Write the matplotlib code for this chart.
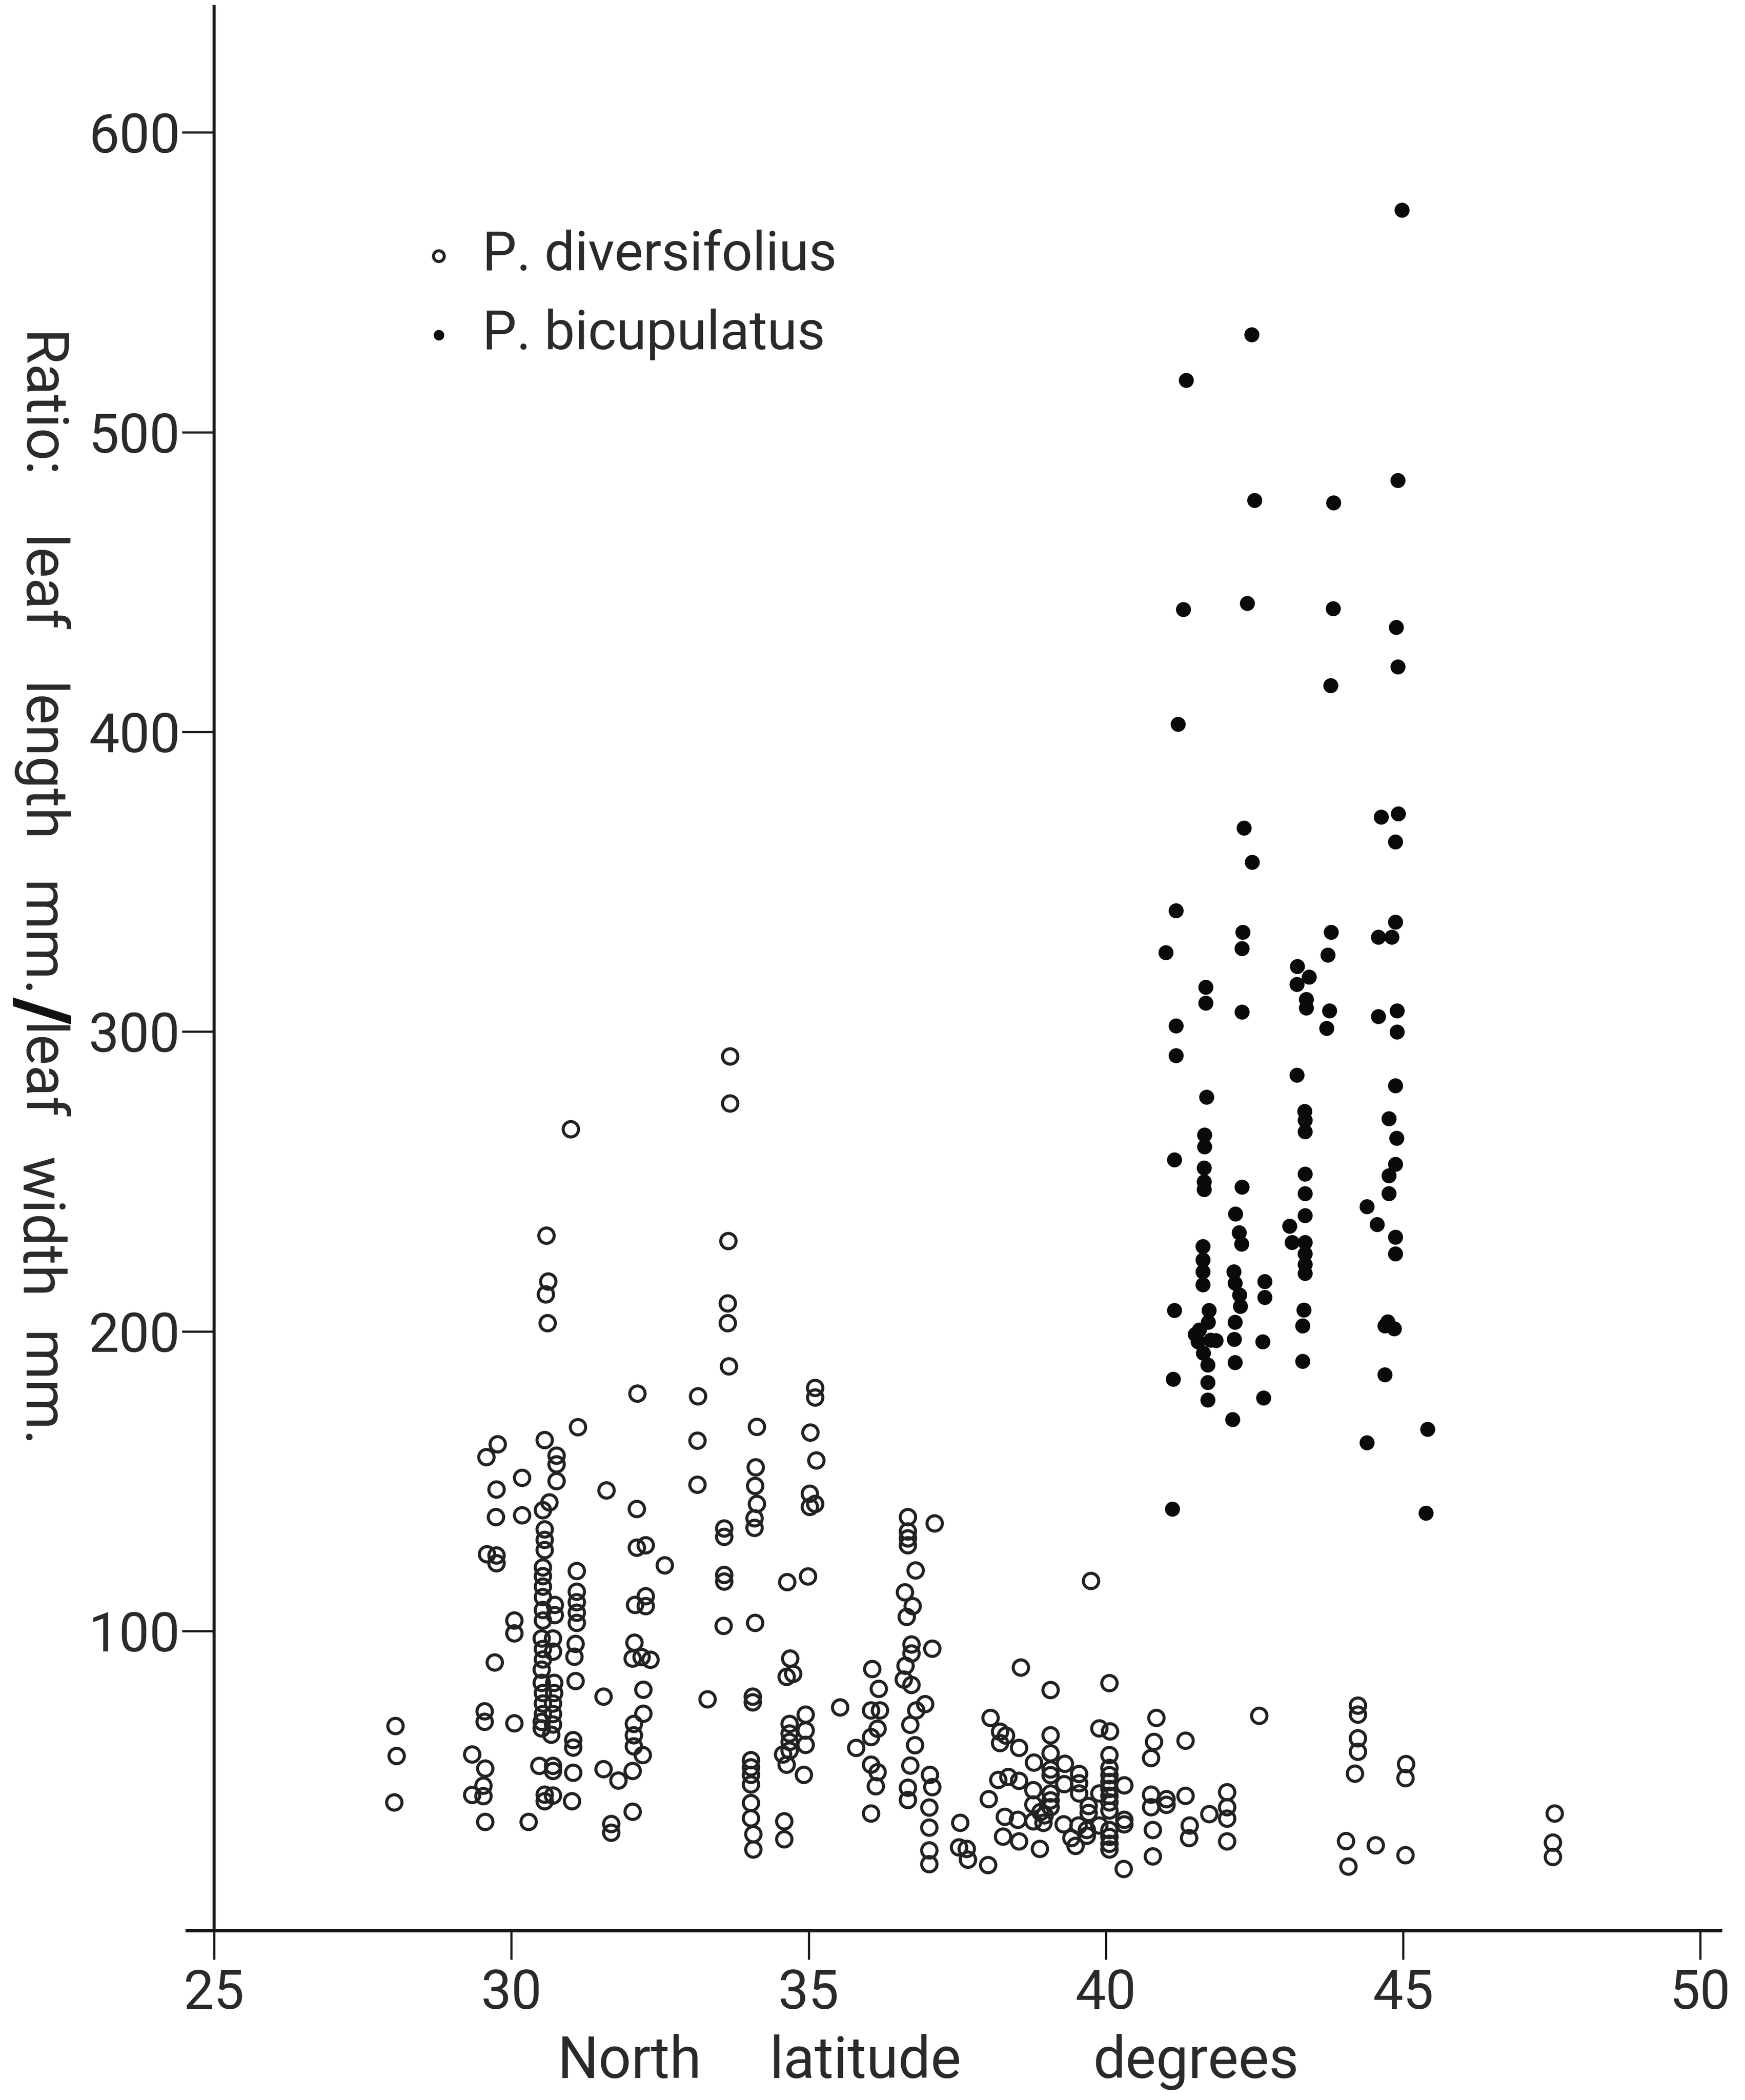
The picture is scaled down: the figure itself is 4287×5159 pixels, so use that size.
import matplotlib
matplotlib.use("Agg")
import matplotlib.pyplot as plt

plt.rcParams['font.family'] = ['Roboto', 'DejaVu Sans']
plt.rcParams['font.weight'] = 'normal'

# ---------------- data ----------------
x_ticks = [25, 30, 35, 40, 45, 50]
y_ticks = [100, 200, 300, 400, 500, 600]

# P. diversifolius (open circles): latitude (deg N) and leaf length/width ratio
div_lat = [
    31.00, 30.59, 30.62, 30.58, 30.61, 31.12, 29.77, 29.58, 30.56, 30.76,
    30.76, 30.18, 30.76, 29.75, 30.64, 30.53, 29.74, 30.18, 30.56, 30.56,
    30.56, 29.59, 29.75, 29.75, 30.53, 31.10, 30.53, 30.53, 31.10, 30.53,
    30.73, 31.10, 30.53, 30.73, 31.10, 30.53, 30.05, 30.05, 31.10, 30.51,
    30.70, 31.08, 30.53, 30.70, 30.53, 29.72, 31.06, 30.51, 30.51, 30.72,
    31.08, 30.53, 30.72, 30.53, 30.70, 30.53, 30.70, 29.55, 29.55, 30.05,
    28.05, 30.51, 30.70, 30.51, 30.67, 31.04, 31.04, 28.07, 29.34, 29.56,
    30.47, 30.70, 30.70, 31.04, 29.53, 29.34, 29.53, 30.56, 30.70, 30.56,
    31.02, 28.03, 29.56, 30.29,
    33.68, 33.68, 33.65, 33.64, 33.64, 33.66, 32.12, 33.14, 34.13, 35.11,
    35.11, 35.03, 33.13, 34.11, 35.13, 31.60, 33.13, 34.10, 34.13, 35.02,
    35.02, 35.11, 32.11, 34.09, 34.09, 33.58, 33.58, 32.11, 32.26, 32.58,
    33.58, 33.58, 34.64, 34.99, 32.08, 32.26, 32.26, 33.57, 34.10, 32.07,
    32.04, 32.19, 32.34, 34.69, 34.74, 34.63, 31.55, 32.22, 33.30, 34.06,
    34.06, 32.22, 32.06, 32.06, 32.06, 32.21, 34.68, 34.68, 34.68, 34.68,
    34.95, 34.95, 34.95, 34.57, 34.63, 34.92, 31.55, 31.80, 32.04, 34.03,
    34.03, 34.03, 34.03, 34.03, 34.03, 34.07, 34.07, 32.04, 31.68, 31.68,
    34.59, 34.59,
    36.67, 36.67, 36.67, 36.67, 37.12, 36.80, 36.62, 36.75, 36.65, 36.73,
    36.73, 37.08, 36.63, 36.60, 36.73, 36.07, 36.18, 35.53, 36.05, 36.20,
    36.16, 36.05, 35.80, 36.81, 36.96, 36.71, 36.79, 36.71, 36.05, 36.16,
    36.13, 36.67, 36.67, 37.04, 37.08, 36.05, 37.03, 37.03, 37.03, 37.03,
    38.57, 38.06, 38.22, 38.32, 38.22, 38.54, 38.79, 38.19, 38.36, 38.54,
    38.03, 38.78, 38.78, 38.90, 38.30, 38.52, 38.78, 38.95, 38.27, 38.54,
    38.89, 37.55, 37.53, 37.66, 37.68, 38.02,
    39.75, 39.07, 40.06, 42.58, 40.85, 40.81, 41.34, 40.76, 39.07, 39.07,
    39.31, 39.07, 39.07, 39.55, 39.55, 39.30, 39.89, 40.07, 40.06, 40.06,
    40.06, 40.06, 40.06, 40.06, 40.06, 40.06, 40.31, 39.07, 39.07, 39.07,
    38.97, 39.55, 39.71, 39.71, 39.89, 39.29, 39.54, 39.68, 39.89, 39.42,
    39.49, 39.68, 40.06, 40.06, 40.06, 40.06, 40.31, 40.31, 40.30, 40.76,
    40.76, 41.02, 41.02, 41.34, 40.79, 40.79, 41.41, 41.40, 41.74, 42.04,
    42.04, 42.04, 42.04,
    44.24, 44.24, 44.24, 44.24, 44.19, 45.05, 45.04, 44.04, 44.54, 44.08,
    45.04, 47.55, 47.52, 47.52,
]
div_ratio = [
    267.4, 231.9, 216.6, 212.3, 202.7, 168.0, 162.3, 158.0, 163.7, 158.5,
    155.6, 151.1, 150.0, 147.2, 142.9, 140.3, 138.0, 138.6, 133.9, 130.4,
    127.0, 125.6, 125.2, 122.6, 121.2, 120.0, 118.3, 114.8, 113.1, 111.3,
    108.7, 109.6, 107.0, 105.3, 106.1, 103.5, 103.5, 99.2, 102.7, 97.5,
    97.5, 95.7, 94.0, 93.1, 90.5, 89.5, 91.4, 87.1, 82.7, 82.7,
    83.3, 79.3, 79.3, 75.8, 75.8, 72.3, 72.3, 73.2, 69.7, 69.2,
    68.3, 69.7, 68.8, 67.5, 65.4, 63.6, 61.1, 58.3, 58.8, 54.1,
    55.0, 55.0, 53.3, 52.7, 48.4, 45.3, 44.9, 45.4, 45.1, 43.2,
    43.2, 42.8, 36.3, 36.3,
    291.7, 276.0, 230.1, 209.3, 202.7, 188.3, 179.2, 178.3, 168.1, 181.1,
    177.9, 166.2, 163.5, 154.6, 156.9, 146.9, 148.8, 148.4, 142.4, 145.8,
    141.4, 142.4, 140.7, 137.6, 134.4, 134.2, 131.4, 127.8, 128.6, 121.9,
    118.7, 116.5, 116.3, 118.2, 108.7, 111.6, 108.3, 101.7, 102.7, 96.1,
    90.8, 91.3, 90.4, 90.8, 85.7, 84.7, 78.1, 80.4, 77.2, 78.1,
    76.2, 72.4, 69.0, 65.2, 61.5, 58.6, 69.0, 65.8, 63.0, 60.1,
    72.1, 66.8, 62.0, 58.8, 55.4, 52.0, 53.9, 50.1, 53.3, 56.9,
    54.5, 52.0, 48.8, 42.6, 37.5, 32.2, 27.1, 39.7, 35.6, 32.7,
    36.5, 30.5,
    138.0, 133.2, 130.9, 128.6, 135.9, 120.2, 112.9, 108.3, 104.7, 95.5,
    92.5, 94.1, 88.4, 83.8, 82.0, 87.3, 80.7, 74.5, 73.5, 73.5,
    67.4, 64.6, 61.0, 73.5, 75.6, 68.7, 61.9, 55.1, 55.4, 52.9,
    48.2, 47.7, 43.6, 52.0, 47.9, 39.1, 41.1, 34.4, 26.8, 22.2,
    87.8, 71.0, 66.4, 65.1, 62.6, 61.0, 56.1, 50.3, 51.3, 50.0,
    43.9, 46.9, 42.1, 39.6, 38.0, 37.0, 36.5, 36.0, 31.4, 29.8,
    27.3, 36.0, 27.8, 27.3, 23.7, 21.9,
    116.7, 80.3, 82.6, 71.7, 71.0, 63.0, 63.4, 57.6, 65.2, 59.2,
    55.7, 53.8, 51.9, 52.3, 49.2, 48.9, 67.5, 66.5, 58.6, 54.3,
    51.9, 49.6, 47.3, 45.0, 42.8, 40.1, 48.5, 45.8, 43.5, 41.2,
    38.5, 45.8, 41.6, 39.3, 45.8, 35.5, 35.1, 33.6, 35.1, 30.9,
    28.3, 31.7, 33.6, 31.3, 29.0, 27.1, 37.0, 35.5, 20.6, 45.4,
    41.2, 43.9, 42.0, 45.0, 33.6, 24.8, 35.1, 30.9, 38.9, 46.2,
    41.2, 37.4, 29.8,
    75.1, 72.1, 64.2, 59.7, 52.4, 55.6, 50.9, 29.9, 28.5, 21.4,
    25.2, 39.1, 29.4, 24.6,
]

# P. bicupulatus (filled dots)
bic_lat = [
    42.45, 41.35, 42.50, 42.38, 41.30, 41.21, 42.32, 42.46, 41.18, 41.01,
    42.30, 42.29, 41.68, 41.68, 41.18, 42.29, 41.18, 41.69, 41.66, 41.66,
    41.65, 41.65, 41.65, 41.15, 42.29, 42.18, 42.24, 42.28, 41.63, 41.63,
    41.63, 41.63, 42.15, 42.17, 42.25, 42.26, 42.67, 42.67, 41.15, 41.73,
    41.57, 41.72, 41.76, 41.55, 41.64, 41.71, 42.17, 42.16, 42.17, 42.64,
    41.71, 41.71, 41.13, 42.13, 42.65, 41.12, 41.50, 41.85,
    44.98, 44.91, 43.83, 43.82, 44.88, 44.91, 43.78, 44.63, 44.92, 44.87,
    43.79, 43.73, 44.87, 44.58, 44.81, 43.22, 43.42, 43.21, 43.37, 43.37,
    43.76, 43.71, 44.58, 44.90, 44.90, 43.21, 44.87, 43.34, 43.35, 43.35,
    44.76, 44.89, 43.35, 43.35, 43.35, 44.87, 44.76, 44.76, 44.39, 44.56,
    43.09, 43.13, 43.35, 43.35, 43.35, 43.35, 44.87, 44.87, 43.33, 43.31,
    43.31, 44.69, 44.74, 44.85, 44.69, 44.39, 45.41, 45.38,
]
bic_ratio = [
    532.6, 517.3, 477.2, 442.9, 440.8, 402.6, 368.0, 356.5, 340.4, 326.4,
    333.1, 327.7, 314.9, 309.5, 301.9, 306.6, 292.0, 278.2, 265.5, 261.6,
    254.6, 249.9, 247.3, 257.2, 248.1, 239.2, 233.0, 229.1, 228.3, 223.9,
    219.9, 215.6, 219.9, 216.1, 212.2, 208.3, 216.6, 211.4, 207.0, 207.0,
    200.5, 203.1, 197.1, 196.6, 192.7, 188.8, 203.1, 197.3, 189.6, 196.6,
    183.0, 177.1, 184.1, 170.6, 177.8, 140.7, 199.0, 197.0,
    574.1, 483.9, 476.5, 441.1, 434.9, 421.7, 415.5, 371.6, 372.7, 363.3,
    333.2, 325.6, 336.5, 331.5, 331.5, 321.7, 318.2, 315.8, 310.8, 307.9,
    307.0, 301.1, 305.0, 307.0, 299.9, 285.5, 281.9, 273.4, 270.4, 266.6,
    271.0, 264.5, 252.5, 246.0, 238.6, 255.7, 251.9, 246.0, 241.6, 235.6,
    235.1, 229.7, 229.7, 225.9, 222.4, 219.4, 231.5, 225.9, 207.1, 201.8,
    190.0, 201.8, 203.2, 200.9, 185.5, 162.8, 167.3, 139.3,
]

series_labels = ["P. diversifolius", "P. bicupulatus"]
x_label_words = ["North", "latitude", "degrees"]
y_label_words = ["Ratio:", "leaf", "length", "mm.", "/", "leaf", "width", "mm."]

TXT = "#2a2a2a"

# ---------------- figure ----------------
W, H = 4287, 5159
fig = plt.figure(figsize=(W / 300, H / 300), dpi=300)
fig.patch.set_facecolor("white")
ax = fig.add_axes([0.1074, 0.0806, 0.8786, 0.9163])
ax.set_facecolor("white")

h_div = ax.scatter(div_lat, div_ratio, s=82, facecolors="none",
                   edgecolors="#222222", linewidths=1.8, label=series_labels[0], zorder=3)
h_bic = ax.scatter(bic_lat, bic_ratio, s=78, c="#0a0a0a", linewidths=0,
                   label=series_labels[1], zorder=4)

ax.set_xlim(24.55, 50.34)
ax.set_ylim(0, 642)
ax.spines["top"].set_visible(False)
ax.spines["right"].set_visible(False)
ax.spines["left"].set_position(("data", 25))
ax.spines["left"].set_linewidth(1.8)
ax.spines["bottom"].set_linewidth(2.0)
ax.spines["left"].set_color("#1a1a1a")
ax.spines["bottom"].set_color("#1a1a1a")

ax.set_xticks(x_ticks)
ax.set_xticklabels([str(v) for v in x_ticks])
ax.set_yticks(y_ticks)
ax.set_yticklabels([str(v) for v in y_ticks])
ax.tick_params(axis="x", direction="out", length=17, width=1.3, pad=5,
               labelsize=32, colors="#1a1a1a", labelcolor=TXT)
ax.tick_params(axis="y", direction="out", length=19, width=1.3, pad=1,
               labelsize=32, colors="#1a1a1a", labelcolor=TXT)

leg = ax.legend(handles=[h_div, h_bic], loc="upper left",
                bbox_to_anchor=(0.1534, 0.884), frameon=False, fontsize=32,
                handlelength=0.6, handletextpad=0.5, labelspacing=0.5,
                borderpad=0, borderaxespad=0, markerscale=0.7, scatterpoints=1)
for t in leg.get_texts():
    t.set_color(TXT)

for word, xc in zip(x_label_words, [0.3607, 0.4958, 0.6854]):
    fig.text(xc, 0.0105, word, ha="center", va="baseline", fontsize=34,
             color=TXT)

# y-axis label (rotated, reads top to bottom)
y_centres = [0.8068, 0.7213, 0.6365, 0.5523, 0.5191, 0.4892, 0.4156, 0.3379]
for word, yc in zip(y_label_words, y_centres):
    if word == "/":
        fig.text(0.0105, yc, word, rotation=-90, rotation_mode="anchor",
                 ha="center", va="baseline", fontsize=44, fontweight="black",
                 color="#111111")
    else:
        fig.text(0.0126, yc, word, rotation=-90, rotation_mode="anchor",
                 ha="center", va="baseline", fontsize=34, color=TXT)

fig.savefig("out.png", dpi=300, facecolor="white")
